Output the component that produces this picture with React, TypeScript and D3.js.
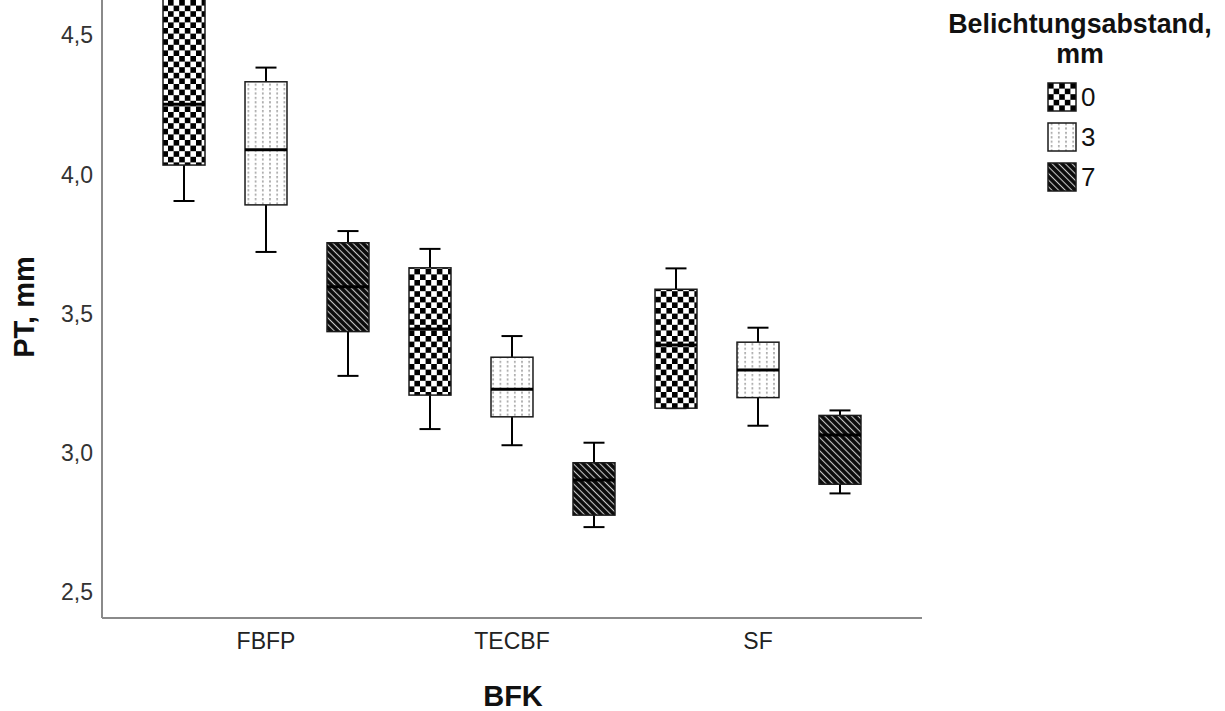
import React from 'react';
import * as d3 from 'd3';

const categories = ['FBFP', 'TECBF', 'SF'];
const groups = ['0', '3', '7'];
// [category][group]
const whiskerLow = [[3.904, 3.721, 3.276], [3.085, 3.027, 2.733], [3.16, 3.097, 2.854]];
const q1 = [[4.033, 3.89, 3.435], [3.207, 3.129, 2.776], [3.16, 3.198, 2.887]];
const median = [[4.251, 4.088, 3.596], [3.444, 3.228, 2.902], [3.387, 3.297, 3.064]];
const q3 = [[4.7, 4.332, 3.754], [3.664, 3.343, 2.964], [3.587, 3.397, 3.134]];
const whiskerHigh = [[4.85, 4.383, 3.796], [3.732, 3.419, 3.036], [3.662, 3.449, 3.152]];
const yTicks = [2.5, 3.0, 3.5, 4.0, 4.5];
const yTickLabels = ['2,5', '3,0', '3,5', '4,0', '4,5'];
const legendTitle = ['Belichtungsabstand,', 'mm'];

const W = 1225;
const H = 711;
const FONT = '"Liberation Sans", Arial, Helvetica, sans-serif';
const patternIds = ['pat-check', 'pat-dots', 'pat-stripe'];

export default function App() {
  const left = 102;
  const right = 922;
  const top = 0;
  const bottom = 618;
  const y = d3.scaleLinear().domain([2.4066, 4.6257]).range([bottom, top]);
  const x0 = d3.scaleBand<string>().domain(categories).range([left, right]).paddingInner(0).paddingOuter(0.1667);
  const x1 = d3.scaleBand<string>().domain(groups).range([0, x0.step()]).padding(0);
  const boxW = x1.bandwidth() * 0.512;
  const capW = boxW / 2;

  return (
    <svg width={W} height={H} style={{ position: 'absolute', left: 0, top: 0, background: '#fff' }} fontFamily={FONT}>
      <defs>
        <pattern id="pat-check" patternUnits="userSpaceOnUse" width={11.2} height={11.2}>
          <rect width={11.2} height={11.2} fill="#fff" />
          <rect width={5.6} height={5.6} fill="#000" />
          <rect x={5.6} y={5.6} width={5.6} height={5.6} fill="#000" />
        </pattern>
        <pattern id="pat-dots" patternUnits="userSpaceOnUse" width={7.2} height={4.4}>
          <rect width={7.2} height={4.4} fill="#fff" />
          <line x1={3.6} x2={3.6} y1={0} y2={2.2} stroke="#888" strokeWidth={1.2} />
        </pattern>
        <pattern id="pat-stripe" patternUnits="userSpaceOnUse" width={4.7} height={4.7} patternTransform="rotate(-45)">
          <rect width={4.7} height={4.7} fill="#0a0a0a" />
          <line x1={2.35} x2={2.35} y1={0} y2={4.7} stroke="#c8c8c8" strokeWidth={1.1} />
        </pattern>
        <clipPath id="plot-clip">
          <rect x={left} y={top} width={right - left} height={bottom - top} />
        </clipPath>
      </defs>

      {/* axes */}
      <line x1={left} x2={left} y1={top} y2={bottom} stroke="#8a8a8a" strokeWidth={2} />
      <line x1={left} x2={right} y1={bottom} y2={bottom} stroke="#8a8a8a" strokeWidth={2} />

      {yTicks.map((t, i) => (
        <text key={t} x={93} y={y(t)} dy="0.36em" textAnchor="end" fontSize={23} fill="#333">
          {yTickLabels[i]}
        </text>
      ))}
      {categories.map((c) => (
        <text key={c} x={(x0(c) as number) + x0.bandwidth() / 2} y={649} textAnchor="middle" fontSize={23} fill="#222">
          {c}
        </text>
      ))}

      <text x={(left + right) / 2 + 1} y={706} textAnchor="middle" fontSize={29} fontWeight="bold" fill="#111">
        BFK
      </text>
      <text transform={`translate(34, 307) rotate(-90)`} textAnchor="middle" fontSize={29} fontWeight="bold" fill="#111">
        PT, mm
      </text>

      {/* boxes */}
      <g clipPath="url(#plot-clip)">
        {categories.map((c, ci) =>
          groups.map((g, gi) => {
            const cx = (x0(c) as number) + (x1(g) as number) + x1.bandwidth() / 2;
            const yq1 = y(q1[ci][gi]);
            const yq3 = y(q3[ci][gi]);
            const ymed = y(median[ci][gi]);
            const ylo = y(whiskerLow[ci][gi]);
            const yhi = y(whiskerHigh[ci][gi]);
            return (
              <g key={c + g}>
                <line x1={cx} x2={cx} y1={yq3} y2={yhi} stroke="#000" strokeWidth={2} />
                <line x1={cx} x2={cx} y1={yq1} y2={ylo} stroke="#000" strokeWidth={2} />
                <line x1={cx - capW / 2} x2={cx + capW / 2} y1={yhi} y2={yhi} stroke="#000" strokeWidth={2} />
                <line x1={cx - capW / 2} x2={cx + capW / 2} y1={ylo} y2={ylo} stroke="#000" strokeWidth={2} />
                <rect
                  x={cx - boxW / 2}
                  y={yq3}
                  width={boxW}
                  height={yq1 - yq3}
                  fill={`url(#${patternIds[gi]})`}
                  stroke="#1a1a1a"
                  strokeWidth={1.5}
                />
                <line x1={cx - boxW / 2} x2={cx + boxW / 2} y1={ymed} y2={ymed} stroke="#000" strokeWidth={3} />
              </g>
            );
          })
        )}
      </g>

      {/* legend */}
      <g>
        {legendTitle.map((t, i) => (
          <text key={t} x={1080} y={33 + i * 30} textAnchor="middle" fontSize={26.8} fontWeight="bold" fill="#111">
            {t}
          </text>
        ))}
        {groups.map((g, i) => (
          <g key={g} transform={`translate(1048, ${83 + i * 40})`}>
            <rect width={28} height={28} fill={`url(#${patternIds[i]})`} stroke="#1a1a1a" strokeWidth={1.5} />
            <text x={33} y={14} dy="0.36em" fontSize={26} fill="#111">
              {g}
            </text>
          </g>
        ))}
      </g>
    </svg>
  );
}
